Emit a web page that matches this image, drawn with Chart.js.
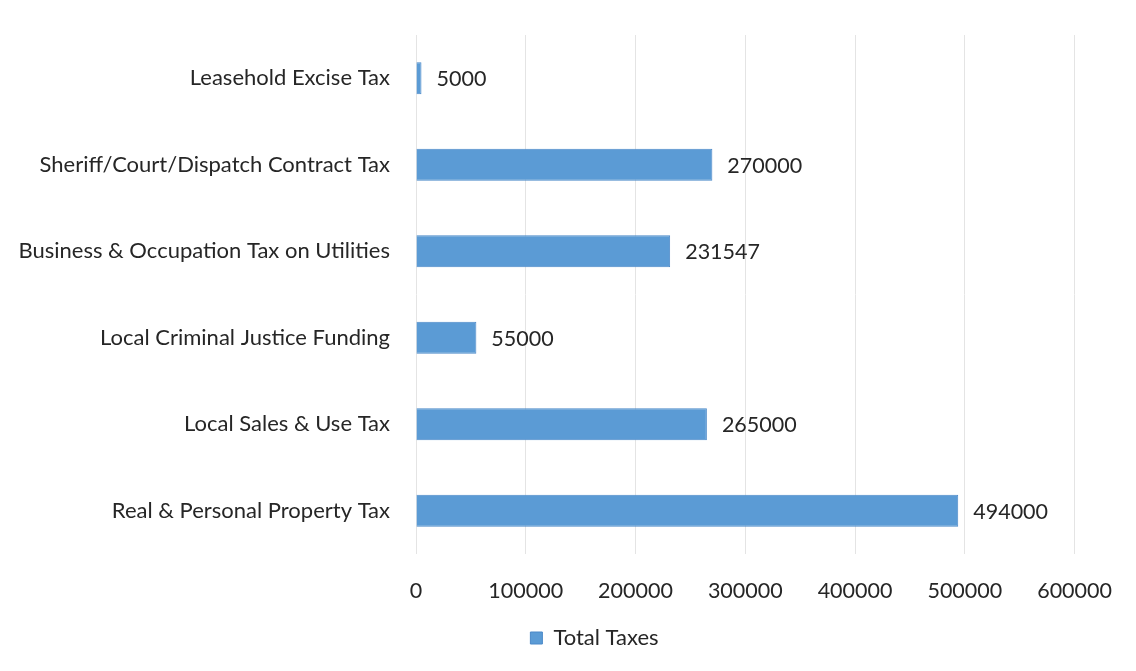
<!DOCTYPE html>
<html>
<head>
<meta charset="utf-8">
<script src="https://cdn.jsdelivr.net/npm/chart.js@4.4.1/dist/chart.umd.min.js"></script>
<style>
    html, body { margin: 0; padding: 0; background: #fff; }
    #wrap { width: 1136px; height: 671px; }
</style>
</head>
<body>
<div id="wrap"><canvas id="taxChart"></canvas></div>
<script>
// Données
const categories = [
    "Leasehold Excise Tax",
    "Sheriff/Court/Dispatch Contract Tax",
    "Business & Occupation Tax on Utilities",
    "Local Criminal Justice Funding",
    "Local Sales & Use Tax",
    "Real & Personal Property Tax"
];
const totalTaxes = [5000, 270000, 231547, 55000, 265000, 494000];
const xTicks = [0, 100000, 200000, 300000, 400000, 500000, 600000];

const fontFamily = "Lato, 'Open Sans', sans-serif";
const textColor = "#262626";

// valeurs au bout des barres
const valueLabels = {
    id: "valueLabels",
    afterDatasetsDraw(chart) {
        const ctx = chart.ctx;
        const meta = chart.getDatasetMeta(0);
        ctx.save();
        ctx.font = "21.5px " + fontFamily;
        ctx.fillStyle = textColor;
        ctx.textAlign = "left";
        ctx.textBaseline = "middle";
        meta.data.forEach((bar, i) => {
            ctx.fillText(String(chart.data.datasets[0].data[i]), bar.x + 15, bar.y + 1);
        });
        ctx.restore();
    }
};

// décale la légende vers la droite (comme dans Excel)
const legendShift = {
    id: "legendShift",
    afterLayout(chart) {
        const lg = chart.legend;
        if (!lg) return;
        lg.left += 54;
        lg.right += 54;
        if (lg.adjustHitBoxes) lg.adjustHitBoxes();
    }
};

const graphTaxes = new Chart(taxChart, {
    type: "bar",
    data: {
        labels: categories,
        datasets: [{
            label: "Total Taxes",
            data: totalTaxes,
            backgroundColor: "#5b9bd5",
            borderColor: "#4a88c8",
            borderWidth: 1,
            categoryPercentage: 1,
            barPercentage: 0.37
        }]
    },
    options: {
        indexAxis: "y",
        responsive: true,
        maintainAspectRatio: false,
        animation: false,
        layout: {
            padding: { left: 0, right: 55, top: 35, bottom: 12 }
        },
        scales: {
            x: {
                min: 0,
                max: 600000,
                afterBuildTicks: (scale) => {
                    scale.ticks = xTicks.map(v => ({ value: v }));
                },
                afterFit: (scale) => { scale.height = 63; },
                grid: { color: "#e4e4e4", drawTicks: false },
                border: { display: false },
                ticks: {
                    padding: 24,
                    color: textColor,
                    font: { size: 21.5, family: fontFamily },
                    callback: (v) => String(v)
                }
            },
            y: {
                grid: { display: false },
                border: { display: false },
                afterFit: (scale) => { scale.width = 416; },
                ticks: {
                    padding: 18,
                    color: textColor,
                    font: { size: 22, family: fontFamily }
                }
            }
        },
        plugins: {
            legend: {
                position: "bottom",
                labels: {
                    boxWidth: 12,
                    boxHeight: 12,
                    padding: 10,
                    color: textColor,
                    font: { size: 22, family: fontFamily }
                }
            },
            tooltip: { enabled: false }
        }
    },
    plugins: [valueLabels, legendShift]
});
</script>
</body>
</html>
